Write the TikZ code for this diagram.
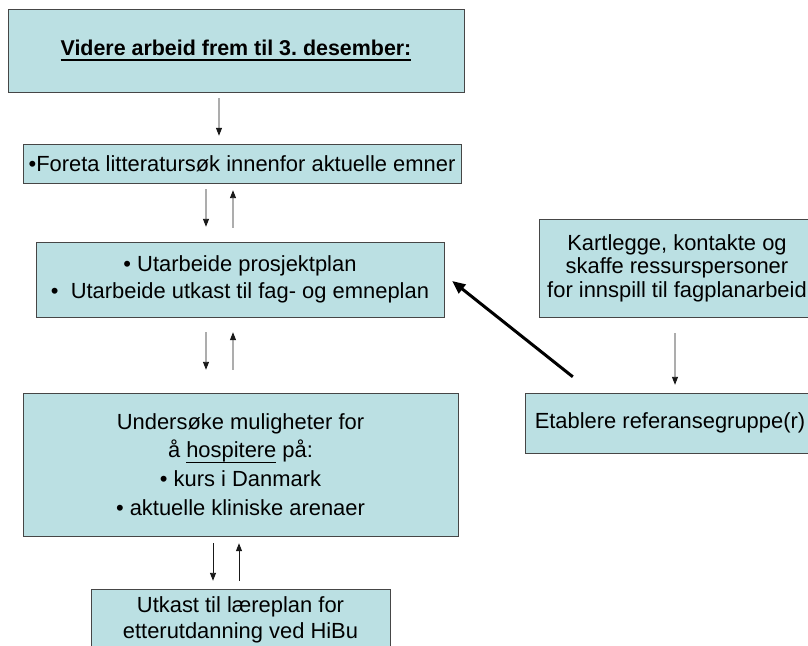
\documentclass[tikz,border=0pt]{standalone}
\usepackage{fontspec}
\setmainfont{Liberation Sans}
\usetikzlibrary{arrows.meta,positioning}
\definecolor{boxfill}{RGB}{187,224,227}
\definecolor{boxline}{RGB}{70,70,70}
\frenchspacing
% underline: #1 depth of bar bottom, #2 thickness, #3 text
\newcommand{\ulbar}[3]{\leavevmode\setbox0\hbox{#3}\rlap{\rule[-#1]{\wd0}{#2}}\box0}

\begin{document}
\begin{tikzpicture}[
    x=1bp, y=-1bp,
    box/.style={draw=boxline, fill=boxfill, inner sep=0pt, align=center,
                font=\fontsize{22}{27}\selectfont},
    arr/.style={-{Triangle[length=8bp,width=6bp]}, draw=black!90, line width=0.9bp},
    bigarr/.style={-{Triangle[length=13bp,width=11bp]}, line width=3bp}
]
    \clip (0,0) rectangle (808,646);
    \fill[white] (0,0) rectangle (808,646);

    % left column
    \node[box, minimum width=456bp, minimum height=83bp,
          font=\fontsize{21.5}{27}\selectfont] (title) at (236,50.5)
        {\ulbar{6.2bp}{2.4bp}{\bfseries Videre arbeid frem til 3. desember:}};
    \node[box, minimum width=438bp, minimum height=39bp] (lit) at (242,163.5)
        {•Foreta litteratursøk innenfor aktuelle emner};
    \node[box, minimum width=408bp, minimum height=75bp] (plan) at (240,279.5)
        {• Utarbeide prosjektplan\\•\ \ Utarbeide utkast til fag- og emneplan};
    \node[box, minimum width=435bp, minimum height=143bp,
          font=\fontsize{22}{29}\selectfont] (hosp) at (240.5,464.5)
        {Undersøke muligheter for\\å \ulbar{5.2bp}{1.2bp}{hospitere}\ på:\\• kurs i Danmark\\• aktuelle kliniske arenaer};
    \node[box, minimum width=299bp, minimum height=62bp,
          font=\fontsize{22}{26}\selectfont] (utkast) at (240.5,620)
        {Utkast til læreplan for\\etterutdanning ved HiBu};

    % right column
    \node[box, minimum width=276bp, minimum height=98bp,
          font=\fontsize{22}{23.5}\selectfont] (kart) at (677,268)
        {Kartlegge, kontakte og\\skaffe ressurspersoner\\for innspill til fagplanarbeid};
    \node[box, minimum width=290bp, minimum height=60bp] (etab) at (670,423)
        {Etablere referansegruppe(r)};

    \draw[arr] ([xshift=-17bp,yshift=-6bp]title.south) -- ([xshift=-23bp,yshift=8bp]lit.north);
    \draw[arr] ([xshift=-36bp,yshift=-6bp]lit.south) -- ([xshift=-34bp,yshift=15bp]plan.north);
    \draw[arr] ([xshift=-7bp,yshift=14bp]plan.north) -- ([xshift=-9bp,yshift=-7bp]lit.south);
    \draw[arr] ([xshift=-34bp,yshift=-15bp]plan.south) -- ([xshift=-34.5bp,yshift=23bp]hosp.north);
    \draw[arr] ([xshift=-7.5bp,yshift=23bp]hosp.north) -- ([xshift=-7bp,yshift=-15bp]plan.south);
    \draw[arr] ([xshift=-27.5bp,yshift=-7bp]hosp.south) -- ([xshift=-27.5bp,yshift=8bp]utkast.north);
    \draw[arr] ([xshift=-1.5bp,yshift=8bp]utkast.north) -- ([xshift=-1.5bp,yshift=-7bp]hosp.south);
    \draw[arr] ([xshift=-2bp,yshift=-16bp]kart.south) -- ([xshift=5bp,yshift=8bp]etab.north);
    \draw[bigarr] ([xshift=48bp,yshift=16bp]etab.north west) -- ([xshift=8bp,yshift=-1.5bp]plan.east);
\end{tikzpicture}
\end{document}
